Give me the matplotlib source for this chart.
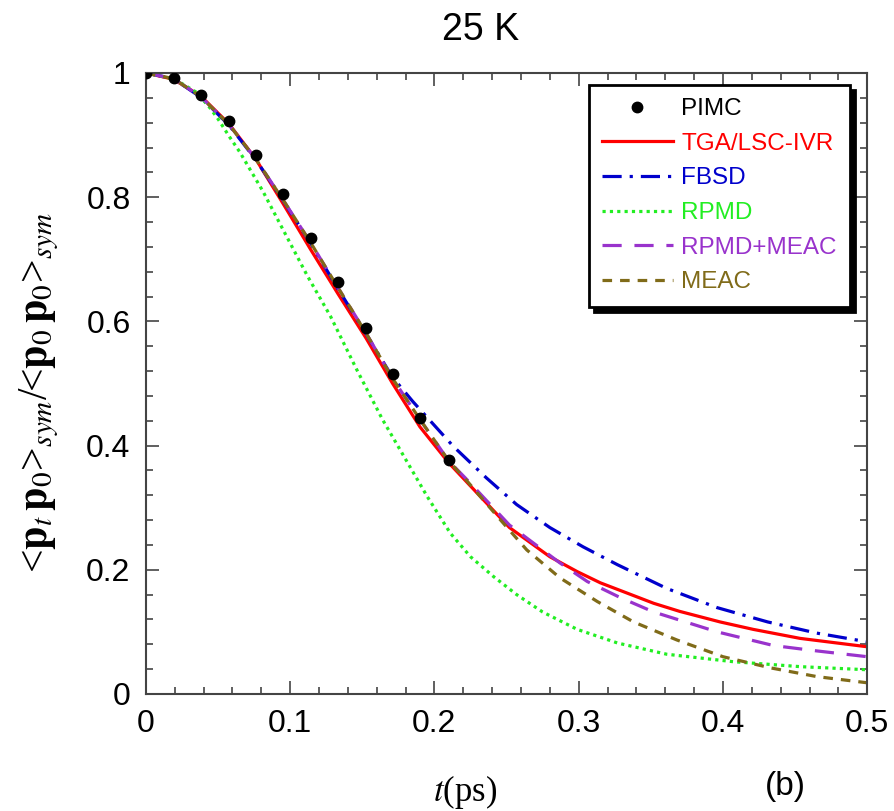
import matplotlib
matplotlib.use("Agg")
import matplotlib.pyplot as plt
from matplotlib.ticker import MultipleLocator, FormatStrFormatter

plt.rcParams["font.family"] = ["Liberation Sans", "DejaVu Sans"]
plt.rcParams["mathtext.fontset"] = "stix"

# PIMC reference points
pimc_t = [0.0, 0.0194, 0.038, 0.0576, 0.0763, 0.095, 0.1144, 0.133, 0.1526, 0.171, 0.190, 0.210]
pimc_c = [1.0, 0.992, 0.965, 0.923, 0.868, 0.805, 0.735, 0.663, 0.589, 0.516, 0.445, 0.376]

# TGA/LSC-IVR
tga_t = [0.0, 0.019, 0.038, 0.0576, 0.0763, 0.095, 0.1144, 0.133, 0.1526, 0.171, 0.19, 0.21,
         0.252, 0.280, 0.299, 0.315, 0.352, 0.370, 0.398, 0.421, 0.4535, 0.5]
tga_c = [1.0, 0.99, 0.963, 0.918, 0.861, 0.79, 0.715, 0.645, 0.573, 0.50, 0.43, 0.372,
         0.268, 0.221, 0.197, 0.179, 0.146, 0.133, 0.116, 0.104, 0.0895, 0.076]

# FBSD
fbsd_t = [0.0, 0.019, 0.038, 0.0576, 0.0763, 0.095, 0.1144, 0.133, 0.1526, 0.171, 0.185, 0.192,
          0.213, 0.236, 0.257, 0.280, 0.303, 0.327, 0.361, 0.396, 0.431, 0.465, 0.5]
fbsd_c = [1.0, 0.991, 0.961, 0.916, 0.86, 0.795, 0.725, 0.653, 0.58, 0.51, 0.471, 0.453,
          0.399, 0.348, 0.305, 0.268, 0.237, 0.208, 0.170, 0.139, 0.116, 0.098, 0.084]

# RPMD
rpmd_t = [0.0, 0.02, 0.035, 0.044, 0.05, 0.058, 0.065, 0.081, 0.095, 0.112, 0.128, 0.146,
          0.164, 0.18, 0.195, 0.211, 0.225, 0.241, 0.257, 0.275, 0.299, 0.327, 0.361, 0.407,
          0.4535, 0.5]
rpmd_c = [1.0, 0.99, 0.969, 0.945, 0.926, 0.897, 0.873, 0.81, 0.748, 0.673, 0.608, 0.523,
          0.442, 0.378, 0.318, 0.259, 0.221, 0.189, 0.160, 0.132, 0.104, 0.082, 0.064, 0.052,
          0.044, 0.039]

# RPMD+MEAC
rm_t = [0.0, 0.019, 0.038, 0.0576, 0.0763, 0.095, 0.1144, 0.133, 0.1526, 0.171, 0.19, 0.21,
        0.2226, 0.252, 0.287, 0.306, 0.329, 0.352, 0.396, 0.435, 0.4626, 0.5]
rm_c = [1.0, 0.991, 0.962, 0.917, 0.861, 0.796, 0.726, 0.655, 0.581, 0.508, 0.442, 0.375,
        0.345, 0.272, 0.211, 0.181, 0.155, 0.132, 0.100, 0.078, 0.070, 0.060]

# MEAC
meac_t = [0.0, 0.019, 0.038, 0.0576, 0.0763, 0.095, 0.1144, 0.133, 0.1526, 0.171, 0.19, 0.21,
          0.2226, 0.2455, 0.264, 0.287, 0.3128, 0.338, 0.368, 0.400, 0.433, 0.465, 0.5]
meac_c = [1.0, 0.991, 0.962, 0.917, 0.861, 0.796, 0.726, 0.655, 0.581, 0.508, 0.442, 0.375,
          0.343, 0.281, 0.232, 0.187, 0.149, 0.116, 0.087, 0.060, 0.042, 0.028, 0.018]

fig = plt.figure(figsize=(8.95, 8.11), dpi=100)
ax = fig.add_axes([0.163, 0.1443, 0.806, 0.7657])

ax.plot(tga_t, tga_c, color="#ff0000", lw=2.3, label="TGA/LSC-IVR")
ax.plot(fbsd_t, fbsd_c, color="#0000cc", lw=2.3, ls=(0, (6, 2.5, 1, 2.5)), label="FBSD")
ax.plot(rpmd_t, rpmd_c, color="#22ee22", lw=2.3, ls=(0, (1, 1.3)), label="RPMD")
ax.plot(rm_t, rm_c, color="#9933cc", lw=2.3, ls=(0, (6, 4)), label="RPMD+MEAC")
ax.plot(meac_t, meac_c, color="#806b19", lw=2.3, ls=(0, (3, 2.5)), label="MEAC")
ax.plot(pimc_t, pimc_c, "o", color="black", ms=7.5, label="PIMC", zorder=5)

ax.set_xlim(0, 0.5)
ax.set_ylim(0, 1)
ax.xaxis.set_major_locator(MultipleLocator(0.1))
ax.xaxis.set_minor_locator(MultipleLocator(0.02))
ax.yaxis.set_major_locator(MultipleLocator(0.2))
ax.yaxis.set_minor_locator(MultipleLocator(0.04))
ax.xaxis.set_major_formatter(FormatStrFormatter("%g"))
ax.yaxis.set_major_formatter(FormatStrFormatter("%g"))
ax.tick_params(which="both", direction="in", top=True, right=True, color="#444444",
               labelsize=23, width=1.2)
ax.tick_params(which="major", length=9.5, pad=11)
ax.tick_params(which="minor", length=5)
for s in ax.spines.values():
    s.set_color("#444444")
    s.set_linewidth(1.5)

ax.set_ylabel(r"<$\mathbf{p}_t\,\mathbf{p}_0$>$_{sym}$/<$\mathbf{p}_0\,\mathbf{p}_0$>$_{sym}$",
              family="Liberation Serif", fontsize=30)
ax.yaxis.set_label_coords(-0.118, 0.486)

handles, labels = ax.get_legend_handles_labels()
order = [5, 0, 1, 2, 3, 4]
leg = ax.legend([handles[i] for i in order], [labels[i] for i in order],
                loc="upper right", bbox_to_anchor=(0.976, 0.981), fontsize=17.5,
                handlelength=2.9, handletextpad=0.35, labelspacing=0.52,
                borderpad=0.55, borderaxespad=0, fancybox=False, framealpha=1,
                shadow={"color": "black", "alpha": 1, "ox": 4, "oy": -4})
leg.get_frame().set_edgecolor("black")
leg.get_frame().set_linewidth(2)
for txt, h in zip(leg.get_texts(), [handles[i] for i in order]):
    txt.set_color(h.get_color())

fig.text(481 / 895, 1 - 30 / 811, "25 K", ha="center", va="center", fontsize=27)
fig.text(465 / 895, 1 - 801 / 811, r"$t$(ps)", family="Liberation Serif",
         ha="center", va="baseline", fontsize=25)
fig.text(785 / 895, 1 - 787 / 811, "(b)", ha="center", va="center", fontsize=24)

fig.savefig("out.png", dpi=100)
